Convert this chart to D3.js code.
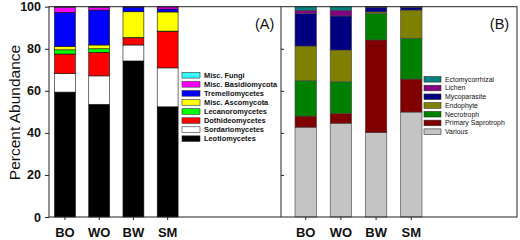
<!DOCTYPE html>
<html lang="en">
<head>
<meta charset="UTF-8">
<title>Percent Abundance</title>
<script src="https://d3js.org/d3.v7.min.js"></script>
<style>
  body { margin: 0; background: #fff; }
  text { font-family: "Liberation Sans", Arial, sans-serif; }
</style>
</head>
<body>
<script>
    const width  = 520;
    const height = 240;

    const sites = ["BO", "WO", "BW", "SM"];
    const yTicks = [0, 20, 40, 60, 80, 100];

    // panel A: taxonomic classes, bottom to top
    const classesA = ["Leotiomycetes", "Sordariomycetes", "Dothideomycetes", "Lecanoromycetes",
                      "Misc. Ascomycota", "Tremellomycetes", "Misc. Basidiomycota", "Misc. Fungi"];
    const leotiomycetes   = [59.4, 53.6, 74.2, 52.4];
    const sordariomycetes = [8.8, 13.5, 7.6, 18.5];
    const dothideomycetes = [9.3, 11.2, 3.4, 17.4];
    const lecanoromycetes = [2.0, 1.7, 0.1, 0.1];
    const miscAscomycota  = [1.6, 1.8, 12.3, 9.1];
    const tremellomycetes = [16.2, 16.6, 2.2, 1.4];
    const miscBasidio     = [2.5, 1.4, 0.2, 1.0];
    const miscFungi       = [0.2, 0.2, 0.0, 0.1];
    const seriesA = [leotiomycetes, sordariomycetes, dothideomycetes, lecanoromycetes,
                     miscAscomycota, tremellomycetes, miscBasidio, miscFungi];
    const colorsA = ["#000000", "#ffffff", "#ff0000", "#00ff00", "#ffff00", "#0000ff", "#ff00ff", "#33ffff"];

    // panel B: functional guilds, bottom to top
    const guildsB = ["Various", "Primary Saprotroph", "Necrotroph", "Endophyte",
                     "Mycoparasite", "Lichen", "Ectomycorrhizal"];
    const various      = [42.7, 44.6, 40.1, 49.9];
    const primarySapro = [5.3, 4.7, 44.1, 15.7];
    const necrotroph   = [16.8, 15.0, 12.5, 19.4];
    const endophyte    = [16.5, 15.1, 0.8, 13.4];
    const mycoparasite = [15.5, 16.2, 2.3, 1.3];
    const lichen       = [1.5, 2.7, 0.1, 0.2];
    const ectomyc      = [1.7, 1.7, 0.1, 0.1];
    const seriesB = [various, primarySapro, necrotroph, endophyte, mycoparasite, lichen, ectomyc];
    const colorsB = ["#c4c4c4", "#800000", "#008000", "#808000", "#000080", "#800080", "#008080"];

    const svg = d3.select("body").append("svg")
        .attr("width", width)
        .attr("height", height);

    const y = d3.scaleLinear().domain([0, 100]).range([217, 6.7]);

    const left = 49, mid = 281, right = 517;

    function table(keys, series) {
        return sites.map((s, i) => {
            const row = {site: s};
            keys.forEach((k, j) => row[k] = series[j][i]);
            return row;
        });
    }

    function drawPanel(keys, series, colors, x, stroke) {
        const stacked = d3.stack().keys(keys)(table(keys, series));
        const g = svg.append("g");
        g.selectAll("g")
            .data(stacked)
            .join("g")
            .attr("fill", (d, i) => colors[i])
            .selectAll("rect")
            .data(d => d)
            .join("rect")
            .attr("x", d => x(d.data.site))
            .attr("width", x.bandwidth())
            .attr("y", d => y(d[1]))
            .attr("height", d => y(d[0]) - y(d[1]))
            .attr("stroke", stroke)
            .attr("stroke-width", 0.6);

        // x ticks and labels
        const xa = svg.append("g")
            .attr("transform", "translate(0,217)")
            .call(d3.axisBottom(x).tickSize(3).tickPadding(8));
        xa.select(".domain").remove();
        xa.selectAll("line").attr("stroke", "#222");
        xa.selectAll("text")
            .attr("font-size", 13)
            .attr("font-weight", "bold")
            .attr("fill", "#111");
    }

    function drawLegend(keys, colors, x0, y0, step, bold, size, swW) {
        const items = keys.map((k, i) => ({k: k, c: colors[i]})).reverse();
        const lg = svg.append("g");
        const row = lg.selectAll("g").data(items).join("g")
            .attr("transform", (d, i) => "translate(" + x0 + "," + (y0 + i * step) + ")");
        row.append("rect")
            .attr("x", 0).attr("y", -2.8)
            .attr("width", swW).attr("height", 5.6)
            .attr("fill", d => d.c)
            .attr("stroke", "#333")
            .attr("stroke-width", 0.6);
        row.append("text")
            .attr("x", swW + 4)
            .attr("dy", "0.35em")
            .attr("font-size", size)
            .attr("font-weight", bold ? "bold" : "normal")
            .attr("fill", "#111")
            .text(d => d.k);
    }

    const xA = d3.scaleBand().domain(sites).range([54.5, 178.1]).paddingInner(0.39);
    const xB = d3.scaleBand().domain(sites).range([295, 422]).paddingInner(0.39);

    drawPanel(classesA, seriesA, colorsA, xA, "#111");
    drawPanel(guildsB, seriesB, colorsB, xB, "#444");

    // frame
    const frame = svg.append("g").attr("stroke", "#222").attr("fill", "none").attr("stroke-width", 1);
    frame.append("rect")
        .attr("x", left).attr("y", y(100))
        .attr("width", right - left).attr("height", y(0) - y(100));
    frame.append("line")
        .attr("x1", mid).attr("x2", mid)
        .attr("y1", y(100)).attr("y2", y(0));

    // y axis panel A (outward ticks)
    const ya = svg.append("g")
        .attr("transform", "translate(" + left + ",0)")
        .call(d3.axisLeft(y).tickValues(yTicks).tickSize(4).tickPadding(4));
    ya.select(".domain").remove();
    ya.selectAll("line").attr("stroke", "#222");
    ya.selectAll("text")
        .attr("font-size", 12.5)
        .attr("font-weight", "bold")
        .attr("fill", "#111");

    // panel B inward ticks
    const yb = svg.append("g")
        .attr("transform", "translate(" + mid + ",0)")
        .call(d3.axisRight(y).tickValues([20, 40, 60, 80]).tickSize(3).tickFormat(""));
    yb.select(".domain").remove();
    yb.selectAll("line").attr("stroke", "#222");

    // y title
    svg.append("text")
        .attr("transform", "translate(20,112.5) rotate(-90)")
        .attr("text-anchor", "middle")
        .attr("font-size", 15.5)
        .attr("fill", "#111")
        .text("Percent Abundance");

    // panel labels
    svg.append("text").attr("x", 264.7).attr("y", 28.5)
        .attr("text-anchor", "middle").attr("font-size", 14.5).attr("fill", "#111").text("(A)");
    svg.append("text").attr("x", 499.5).attr("y", 28.5)
        .attr("text-anchor", "middle").attr("font-size", 14.5).attr("fill", "#111").text("(B)");

    drawLegend(classesA, colorsA, 182, 75.3, 9.05, true, 7.4, 18);
    drawLegend(guildsB, colorsB, 424, 79.3, 8.73, false, 6.9, 17);
</script>
</body>
</html>
